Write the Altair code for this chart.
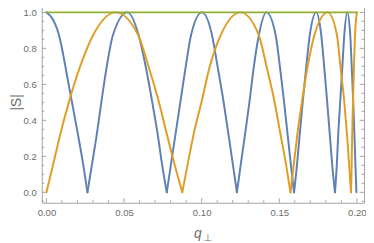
import altair as alt
import pandas as pd

# ---- data ----
blue_x = [0.0, 0.0037, 0.0080, 0.0143, 0.0202, 0.0239, 0.0264,
          0.0291, 0.0325, 0.0355, 0.0387, 0.0429, 0.0522,
          0.0593, 0.0641, 0.0680, 0.0716, 0.0747, 0.0775,
          0.0800, 0.0832, 0.0864, 0.0896, 0.0932, 0.1002,
          0.1066, 0.1104, 0.1140, 0.1172, 0.1203, 0.1227,
          0.1250, 0.1280, 0.1309, 0.1335, 0.1369, 0.1417,
          0.1476, 0.1505, 0.1530, 0.1553, 0.1576, 0.1595,
          0.1613, 0.1632, 0.1652, 0.1673, 0.1697, 0.1738,
          0.1770, 0.1790, 0.1808, 0.1825, 0.1842, 0.1859,
          0.1870, 0.1880, 0.1893, 0.1906, 0.1919, 0.1938,
          0.1957, 0.1967, 0.1976, 0.1984, 0.1991, 0.1997]
blue_y = [1.0, 0.967, 0.876, 0.600, 0.326, 0.143, 0.0,
          0.143, 0.326, 0.509, 0.692, 0.876, 1.0,
          0.876, 0.692, 0.509, 0.326, 0.143, 0.0,
          0.143, 0.326, 0.509, 0.692, 0.876, 1.0,
          0.876, 0.692, 0.509, 0.326, 0.143, 0.0,
          0.143, 0.326, 0.509, 0.692, 0.876, 1.0,
          0.876, 0.692, 0.509, 0.326, 0.143, 0.0,
          0.143, 0.326, 0.509, 0.692, 0.876, 1.0,
          0.876, 0.692, 0.509, 0.326, 0.143, 0.0,
          0.143, 0.326, 0.509, 0.692, 0.876, 1.0,
          0.876, 0.692, 0.509, 0.326, 0.143, 0.0]

orange_x = [0.0, 0.0040, 0.0090, 0.0147, 0.0214, 0.0302, 0.0445,
            0.0590, 0.0660, 0.0722, 0.0775, 0.0829, 0.0875,
            0.0907, 0.0949, 0.1001, 0.1050, 0.1124, 0.1250,
            0.1367, 0.1420, 0.1468, 0.1507, 0.1546, 0.1572,
            0.1592, 0.1617, 0.1647, 0.1681, 0.1727, 0.1812,
            0.1871, 0.1895, 0.1918, 0.1936, 0.1951, 0.1962,
            0.1966, 0.1970, 0.1975, 0.1981, 0.1988, 0.2000]
orange_y = [0.0, 0.143, 0.326, 0.509, 0.692, 0.876, 1.0,
            0.876, 0.692, 0.509, 0.326, 0.143, 0.0,
            0.143, 0.326, 0.509, 0.692, 0.876, 1.0,
            0.876, 0.692, 0.509, 0.326, 0.143, 0.0,
            0.143, 0.326, 0.509, 0.692, 0.876, 1.0,
            0.876, 0.692, 0.509, 0.326, 0.143, 0.0,
            0.143, 0.326, 0.509, 0.692, 0.876, 1.0]

green_x = [0.0, 0.2]
green_y = [1.0, 1.0]

series_names = ["blue", "orange", "green"]
series_colors = ["#5E81B5", "#E19C24", "#8FB032"]

x_major = [0.0, 0.05, 0.10, 0.15, 0.20]
x_minor = [0.01, 0.02, 0.03, 0.04, 0.06, 0.07, 0.08, 0.09,
           0.11, 0.12, 0.13, 0.14, 0.16, 0.17, 0.18, 0.19]
y_major = [0.0, 0.2, 0.4, 0.6, 0.8, 1.0]
y_minor = [-0.05, 0.05, 0.10, 0.15, 0.25, 0.30, 0.35, 0.45, 0.50, 0.55,
           0.65, 0.70, 0.75, 0.85, 0.90, 0.95, 1.05]

x_title = "q"
x_sub = "⊥"
y_title = "|S|"

# ---- build tables ----
def arches(xs, ys, name):
    rows, seg = [], 0
    for i, (x, y) in enumerate(zip(xs, ys)):
        rows.append(dict(x=x, y=y, series=name, seg=f"{name}{seg}", order=i))
        if y == 0 and 0 < i < len(xs) - 1:
            seg += 1
            rows.append(dict(x=x, y=y, series=name, seg=f"{name}{seg}", order=i))
    return rows

rows = arches(blue_x, blue_y, "blue") + arches(orange_x, orange_y, "orange") + \
    arches(green_x, green_y, "green")
df = pd.DataFrame(rows)

W, H = 327, 203.8
XD = [-0.003, 0.2046]
YD = [-0.058, 1.058]
FRAME = "#a3a3a3"
LABEL = "#6b6b6b"
FONT = "Liberation Sans"

xs = alt.Scale(domain=XD, nice=False, zero=False)
ys = alt.Scale(domain=YD, nice=False, zero=False)

lines = alt.Chart(df).mark_line(strokeWidth=2, interpolate="monotone",
                                strokeCap="round", strokeJoin="round").encode(
    x=alt.X("x:Q", scale=xs, axis=alt.Axis(values=x_major, format=".2f", ticks=False, tickSize=0,
                                          domain=False, grid=False, labelPadding=4.5,
                                          labelColor=LABEL, labelFontSize=9.7, labelFont=FONT,
                                          title=None)),
    y=alt.Y("y:Q", scale=ys, axis=alt.Axis(values=y_major, format=".1f", ticks=False, tickSize=0,
                                          domain=False, grid=False, labelPadding=5.6,
                                          labelColor=LABEL, labelFontSize=9.7, labelFont=FONT,
                                          title=None)),
    color=alt.Color("series:N", scale=alt.Scale(domain=series_names, range=series_colors), legend=None),
    detail="seg:N",
    order="order:Q",
)

def xticks(vals, length):
    d = pd.DataFrame({"v": vals})
    b = alt.Chart(d).mark_rule(color=FRAME, strokeWidth=1).encode(
        x=alt.X("v:Q", scale=xs), y=alt.value(H), y2=alt.value(H - length))
    t = alt.Chart(d).mark_rule(color=FRAME, strokeWidth=1).encode(
        x=alt.X("v:Q", scale=xs), y=alt.value(0), y2=alt.value(length))
    return b + t

def yticks(vals, length):
    d = pd.DataFrame({"v": vals})
    l = alt.Chart(d).mark_rule(color=FRAME, strokeWidth=1).encode(
        y=alt.Y("v:Q", scale=ys), x=alt.value(0), x2=alt.value(length))
    r = alt.Chart(d).mark_rule(color=FRAME, strokeWidth=1).encode(
        y=alt.Y("v:Q", scale=ys), x=alt.value(W), x2=alt.value(W - length))
    return l + r

ticks = xticks(x_major, 4.5) + xticks(x_minor, 2.5) + yticks(y_major, 4.5) + yticks(y_minor, 2.5)

title_df = pd.DataFrame({"t": [y_title]})
ytitle = alt.Chart(title_df).mark_text(angle=270, fontSize=14, font=FONT, color=LABEL,
                                       align="center", baseline="middle").encode(
    text="t:N", x=alt.value(-25.5), y=alt.value(102))
xq = alt.Chart(pd.DataFrame({"t": [x_title]})).mark_text(fontSize=14, font=FONT, fontStyle="italic",
                                                        color=LABEL, align="left", baseline="alphabetic").encode(
    text="t:N", x=alt.value(154.4), y=alt.value(239.8))
xs_sub = alt.Chart(pd.DataFrame({"t": [x_sub]})).mark_text(fontSize=10, font="DejaVu Sans",
                                                          color=LABEL, align="left", baseline="alphabetic").encode(
    text="t:N", x=alt.value(164.2), y=alt.value(243))

chart = alt.layer(ticks, lines, ytitle, xq, xs_sub).properties(
    width=W, height=H,
    autosize=alt.AutoSizeParams(type="none"),
    padding={"left": 34.3, "top": -7.9, "right": 2, "bottom": 40},
).configure_view(stroke=FRAME, strokeWidth=1)

chart.save("out.html", embed_options={"renderer": "svg", "actions": False})
